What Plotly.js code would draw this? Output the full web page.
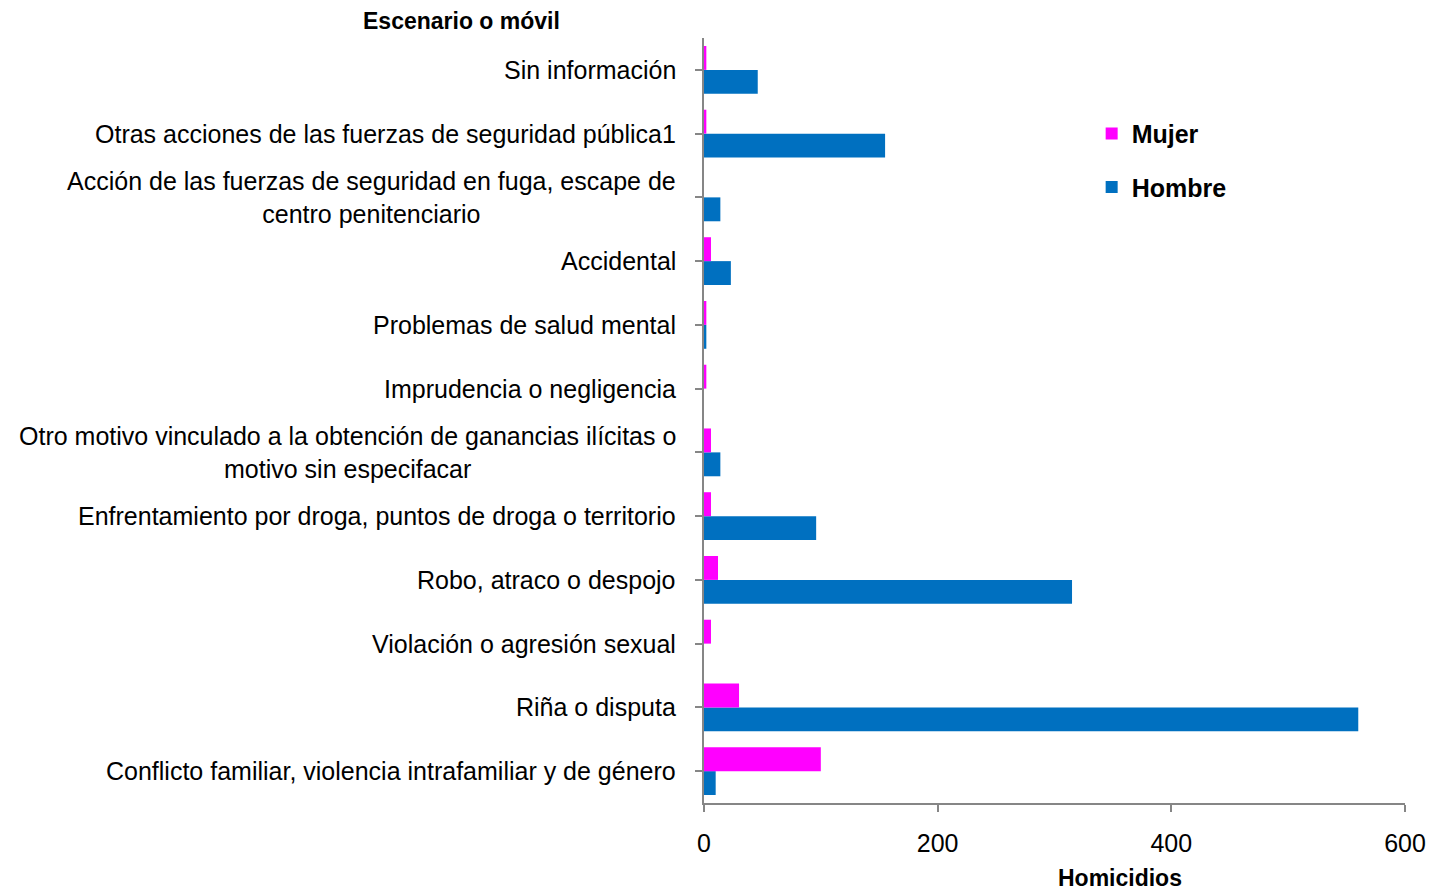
<!DOCTYPE html>
<html>
<head>
<meta charset="utf-8">
<script src="https://cdn.plot.ly/plotly-3.0.1.min.js"></script>
<style>html,body{margin:0;padding:0;background:#fff;}#chart{width:1433px;height:892px;}</style>
</head>
<body>
<div id="chart"></div>
<script>
// Categories from bottom to top
const categories = [
  "Conflicto familiar, violencia intrafamiliar y de género",
  "Riña o disputa",
  "Violación o agresión sexual",
  "Robo, atraco o despojo",
  "Enfrentamiento por droga, puntos de droga o territorio",
  "Otro motivo vinculado a la obtención de ganancias ilícitas o<br>motivo sin especifacar",
  "Imprudencia o negligencia",
  "Problemas de salud mental",
  "Accidental",
  "Acción de las fuerzas de seguridad en fuga, escape de<br>centro penitenciario",
  "Otras acciones de las fuerzas de seguridad pública1",
  "Sin información"
];
const mujer  = [100, 30, 6, 12, 6, 6, 2, 2, 6, 0, 2, 2];
const hombre = [10, 560, 0, 315, 96, 14, 0, 2, 23, 14, 155, 46];
const xTicks = [0, 200, 400, 600];

const FONT = "Liberation Sans, Arial, sans-serif";
const idx = categories.map((c, i) => i);

const traces = [
  {
    type: "bar", orientation: "h", name: "Hombre",
    y: idx, x: hombre,
    marker: {color: "#0070C0"},
    legendgroup: "h", legendrank: 2, hoverinfo: "x"
  },
  {
    type: "bar", orientation: "h", name: "Mujer",
    y: idx, x: mujer,
    marker: {color: "#FF00FF"},
    legendgroup: "m", legendrank: 1, hoverinfo: "x"
  }
];

const annotations = categories.map((c, i) => ({
  xref: "paper", yref: "y", x: 0, y: i, xshift: -26,
  xanchor: "right", yanchor: "middle", align: "center",
  text: c, showarrow: false,
  font: {family: FONT, size: 25, color: "#000"}
}));
annotations.push({
  xref: "paper", yref: "paper", x: -0.49, y: 1.0, yshift: 2,
  xanchor: "left", yanchor: "bottom", text: "<b>Escenario o móvil</b>",
  showarrow: false, font: {family: FONT, size: 23, color: "#000"}
});
annotations.push({
  xref: "paper", yref: "paper", x: 0.594, y: 0, yshift: -75,
  xanchor: "center", yanchor: "middle", text: "<b>Homicidios</b>",
  showarrow: false, font: {family: FONT, size: 23, color: "#000"}
});

const layout = {
  width: 1433, height: 892,
  margin: {l: 704, r: 28, t: 38, b: 89},
  paper_bgcolor: "#fff", plot_bgcolor: "#fff",
  barmode: "group", bargap: 0.25, bargroupgap: 0,
  showlegend: true,
  legend: {
    x: 0.553, y: 0.905, xanchor: "left", yanchor: "top",
    font: {family: FONT, size: 25, color: "#000", weight: "bold"},
    tracegroupgap: 18, itemwidth: 30, traceorder: "grouped"
  },
  xaxis: {
    range: [0, 600], tickvals: xTicks, ticktext: xTicks.map(String),
    showgrid: false, zeroline: false,
    showline: true, linecolor: "#868686", linewidth: 2,
    ticks: "outside", ticklen: 7, tickcolor: "#868686", tickwidth: 2,
    tickfont: {family: FONT, size: 25, color: "#000"},
    ticklabelstandoff: 10, fixedrange: true
  },
  yaxis: {
    range: [-0.5, 11.5],
    tickvals: idx, showticklabels: false,
    showgrid: false, zeroline: false,
    showline: true, linecolor: "#868686", linewidth: 2,
    ticks: "outside", ticklen: 7, tickcolor: "#868686", tickwidth: 2,
    fixedrange: true
  },
  annotations: annotations
};

Plotly.newPlot("chart", traces, layout, {displayModeBar: false, staticPlot: true});
</script>
</body>
</html>
